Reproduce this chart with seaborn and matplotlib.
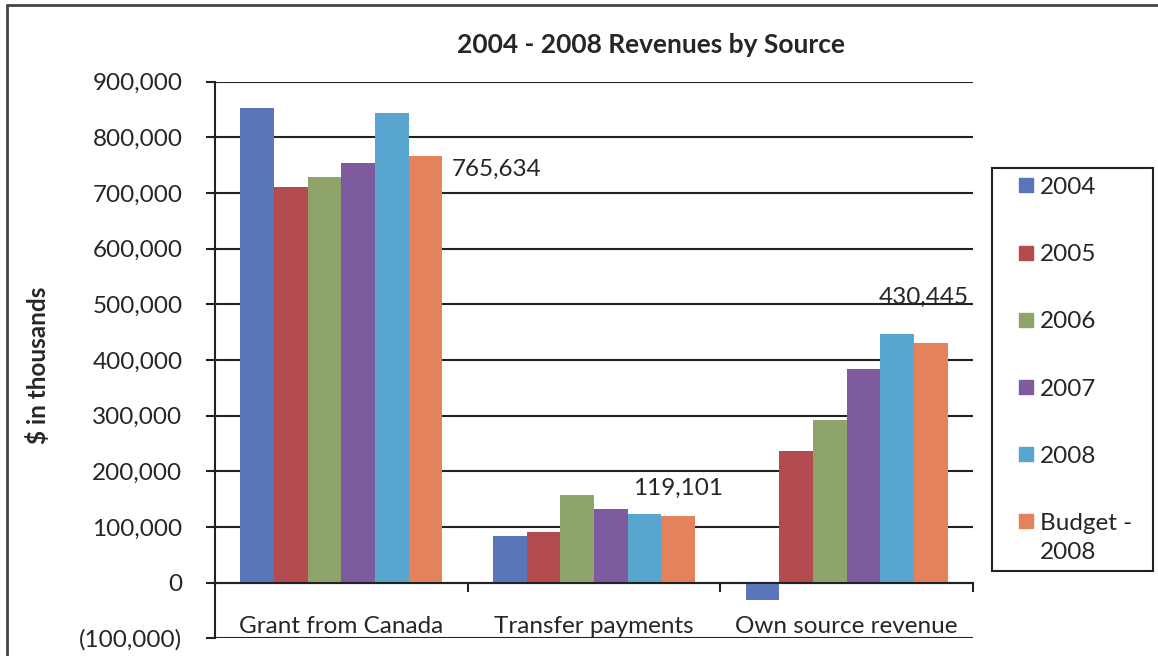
import matplotlib
matplotlib.use("Agg")
import matplotlib.pyplot as plt
from matplotlib.lines import Line2D
from matplotlib.patches import Rectangle
from matplotlib.ticker import FuncFormatter, MultipleLocator, FixedLocator
import seaborn as sns
import pandas as pd

# Revenue data ($ thousands)
sources = ["Grant from Canada", "Transfer payments", "Own source revenue"]
series = ["2004", "2005", "2006", "2007", "2008", "Budget - 2008"]
grant_from_canada = [853000, 710000, 728000, 753000, 843000, 765634]
transfer_payments = [83000, 91000, 158000, 132000, 123000, 119101]
own_source_revenue = [-32000, 236000, 292000, 384000, 447000, 430445]
colors = ["#5876B9", "#B34B51", "#8FA46A", "#7E5B9E", "#58A5CF", "#E5825E"]
legend_labels = ["2004", "2005", "2006", "2007", "2008", "Budget -"]
legend_wrap = "2008"

rows = []
for src, vals in zip(sources, [grant_from_canada, transfer_payments, own_source_revenue]):
    for s, v in zip(series, vals):
        rows.append({"source": src, "series": s, "value": v})
df = pd.DataFrame(rows)

sns.set_style("white")
plt.rcParams["font.family"] = ["Lato", "DejaVu Sans"]
TXT = "#262626"
LINE = "#222222"
FS = 17.5

fig = plt.figure(figsize=(11.58, 6.56), dpi=100)
ax = fig.add_axes([0.1857, 0.0270, 0.6546, 0.8485])

sns.barplot(data=df, x="source", y="value", hue="series", hue_order=series,
            order=sources, palette=colors, saturation=1, linewidth=0,
            legend=False, ax=ax)

ax.set_ylim(-100000, 900000)
ax.set_xlim(-0.5, 2.5)
ax.yaxis.set_major_locator(MultipleLocator(100000))


def fmt(v, _pos=None):
    if v < 0:
        return f"({abs(v):,.0f})"
    return f"{v:,.0f}"


ax.yaxis.set_major_formatter(FuncFormatter(fmt))
ax.set_axisbelow(True)
ax.yaxis.grid(True, color=LINE, linewidth=1.5)
ax.xaxis.grid(False)

for side in ["top", "right"]:
    ax.spines[side].set_visible(False)
ax.spines["left"].set_color(LINE)
ax.spines["left"].set_linewidth(1.5)
ax.spines["bottom"].set_position(("data", 0))
ax.spines["bottom"].set_color(LINE)
ax.spines["bottom"].set_linewidth(1.5)

ax.tick_params(axis="y", which="major", direction="out", length=6.5, width=1.5,
               color=LINE, pad=17, labelsize=FS, labelcolor=TXT, left=True)
ax.tick_params(axis="x", which="major", length=0, pad=24, labelsize=FS,
               labelcolor=TXT, bottom=True)
ax.xaxis.set_minor_locator(FixedLocator([0.5, 1.5, 2.5]))
ax.tick_params(axis="x", which="minor", direction="out", length=6.5, width=1.5,
               color=LINE, bottom=True)

ax.set_xlabel("")
ax.set_ylabel("$ in thousands", fontsize=FS, fontweight="bold", color=TXT)
ax.yaxis.set_label_coords(-0.218, 0.49)

# Value labels on the budget bars
offsets = [(51, -9), (0, 20), (-5, 33)]
budget_bars = ax.containers[-1]
for bar, off in zip(budget_bars, offsets):
    h = bar.get_height() if bar.get_y() >= 0 else bar.get_y()
    ax.annotate(fmt(h), (bar.get_x() + bar.get_width() / 2, h),
                xytext=off, textcoords="offset points", ha="center", va="center",
                fontsize=FS, color=TXT)

fig.text(0.562, 0.931, "2004 - 2008 Revenues by Source", ha="center", va="center",
         fontsize=19, fontweight="bold", color=TXT)

# Legend: square swatches inside a plain rectangular box
fig.add_artist(Rectangle((0.8566, 0.1296), 0.139, 0.6143, transform=fig.transFigure,
                         facecolor="white", edgecolor=LINE, linewidth=1.5))
handles = [Line2D([], [], marker="s", linestyle="none", markersize=10,
                  markerfacecolor=c, markeredgecolor=c) for c in colors]
leg = fig.legend(handles, legend_labels, loc="upper left",
                 bbox_to_anchor=(0.880, 0.7302), frameon=False,
                 fontsize=FS, labelspacing=1.90, handlelength=0.6,
                 handletextpad=0.25, borderpad=0, borderaxespad=0)
for t in leg.get_texts():
    t.set_color(TXT)

# Second line of the wrapped last legend entry, aligned under its first line
fig.draw_without_rendering()
last = leg.get_texts()[-1]
bb = last.get_window_extent()
x0, yc = fig.transFigure.inverted().transform((bb.x0, (bb.y0 + bb.y1) / 2))
fig.text(x0, yc - 29 / 656, legend_wrap, fontsize=FS, color=TXT,
         ha="left", va="center")

# Outer chart frame
fig.add_artist(Line2D([0.006, 1.0], [0.992, 0.992], color="#444444", linewidth=2,
                      transform=fig.transFigure))
fig.add_artist(Line2D([0.006, 0.006], [0.0, 0.992], color="#444444", linewidth=2,
                      transform=fig.transFigure))

fig.savefig("out.png", dpi=100)
